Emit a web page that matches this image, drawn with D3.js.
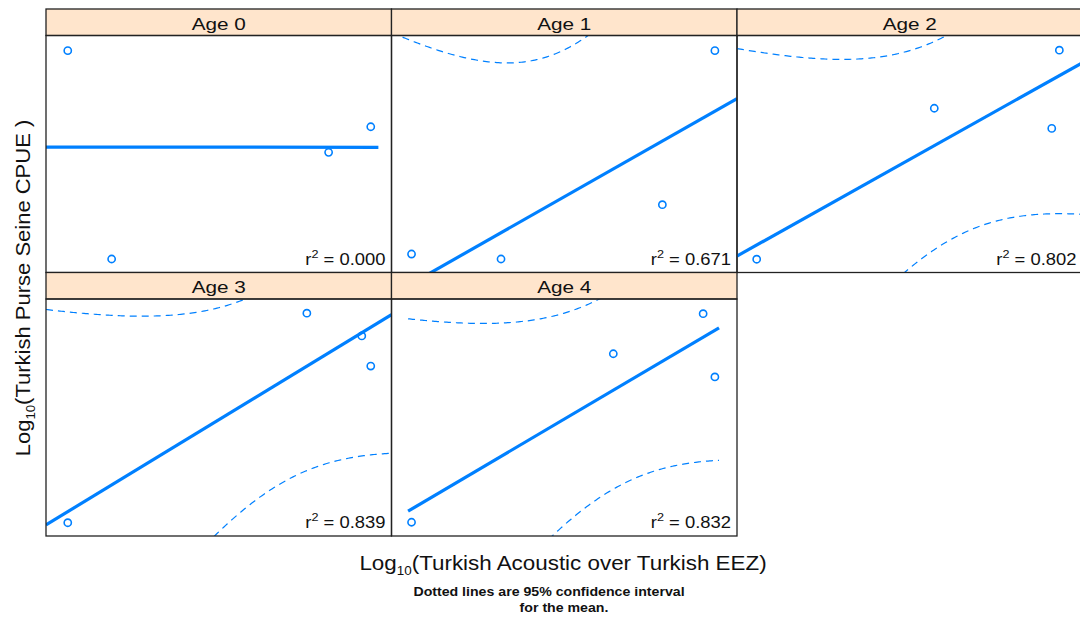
<!DOCTYPE html>
<html>
<head>
<meta charset="utf-8">
<script src="https://cdn.jsdelivr.net/npm/d3@7"></script>
<style>
  html, body { margin: 0; padding: 0; background: #fff; }
  svg { display: block; font-family: "Liberation Sans", Arial, sans-serif; }
</style>
</head>
<body>
<svg id="chart" width="1080" height="620"></svg>
<script>
// ---- data (panel-relative units; no axes are shown in the original) ----
const panels = ["Age 0", "Age 1", "Age 2", "Age 3", "Age 4"];
const xAge0 = [0.063, 0.190, 0.818, 0.940];
const yAge0 = [0.936, 0.057, 0.507, 0.615];
const xAge1 = [0.058, 0.317, 0.784, 0.936];
const yAge1 = [0.078, 0.057, 0.286, 0.936];
const xAge2 = [0.057, 0.571, 0.911, 0.933];
const yAge2 = [0.056, 0.693, 0.608, 0.938];
const xAge3 = [0.063, 0.755, 0.914, 0.940];
const yAge3 = [0.056, 0.940, 0.844, 0.717];
const xAge4 = [0.058, 0.642, 0.902, 0.936];
const yAge4 = [0.058, 0.769, 0.938, 0.671];
const xSeries = [xAge0, xAge1, xAge2, xAge3, xAge4];
const ySeries = [yAge0, yAge1, yAge2, yAge3, yAge4];
const r2Labels = ["0.000", "0.671", "0.802", "0.839", "0.832"];
const fitRanges = [[0, 0.962], [0, 1], [0, 1], [0, 1], [0.048, 0.948]];
const xDomain = [0, 1];
const yDomain = [0, 1];
const tCrit = 4.302653; // t(0.975, df = 2)

// ---- layout ----
const svg = d3.select("#chart");
const leftM = 46, topM = 9, W = 345.5, H = 237, stripH = 26.5;
const blue = "#0080ff";

function fitStats(xs, ys) {
  const n = xs.length;
  const mx = d3.mean(xs), my = d3.mean(ys);
  let sxx = 0, sxy = 0;
  for (let i = 0; i < n; i++) { sxx += (xs[i]-mx)**2; sxy += (xs[i]-mx)*(ys[i]-my); }
  const b = sxy / sxx, a = my - b * mx;
  let sse = 0;
  for (let i = 0; i < n; i++) sse += (ys[i] - (a + b*xs[i]))**2;
  const s = Math.sqrt(sse / (n - 2));
  return {n, mx, sxx, a, b, s};
}

const defs = svg.append("defs");

panels.forEach((name, i) => {
  const col = i % 3, row = Math.floor(i / 3);
  const x0 = leftM + col * W;
  const y0 = topM + row * (stripH + H);
  const py = y0 + stripH;
  const x = d3.scaleLinear().domain(xDomain).range([x0, x0 + W]);
  const y = d3.scaleLinear().domain(yDomain).range([py + H, py]);

  defs.append("clipPath").attr("id", "clip" + i)
    .append("rect").attr("x", x0).attr("y", py).attr("width", W).attr("height", H);

  const g = svg.append("g");
  const pg = g.append("g").attr("clip-path", `url(#clip${i})`);

  const xs = xSeries[i], ys = ySeries[i];
  const st = fitStats(xs, ys);
  const [fx0, fx1] = fitRanges[i];
  const grid = d3.range(0, 201).map(k => fx0 + (fx1 - fx0) * k / 200);
  const hw = xv => tCrit * st.s * Math.sqrt(1 / st.n + (xv - st.mx) ** 2 / st.sxx);
  const lineGen = d3.line().x(d => x(d[0])).y(d => y(d[1]));

  // confidence bands
  [-1, 1].forEach(sign => {
    pg.append("path")
      .attr("d", lineGen(grid.map(xv => [xv, st.a + st.b * xv + sign * hw(xv)])))
      .attr("fill", "none").attr("stroke", blue).attr("stroke-width", 1.2)
      .attr("stroke-dasharray", "7,5");
  });

  // points
  pg.selectAll("circle").data(xs.map((v, k) => [v, ys[k]])).enter()
    .append("circle")
    .attr("cx", d => x(d[0])).attr("cy", d => y(d[1])).attr("r", 3.6)
    .attr("fill", "none").attr("stroke", blue).attr("stroke-width", 1.6);

  // fitted line
  pg.append("path")
    .attr("d", lineGen([[fx0, st.a + st.b * fx0], [fx1, st.a + st.b * fx1]]))
    .attr("fill", "none").attr("stroke", blue).attr("stroke-width", 3.2);

  // r^2 label
  const t = g.append("text")
    .attr("transform", `translate(${x0 + W - 6},${py + H - 8}) scale(1.15,1)`)
    .attr("text-anchor", "end").attr("font-size", 16).attr("fill", "#111");
  t.append("tspan").text("r");
  t.append("tspan").attr("font-size", 11).attr("dy", -7).text("2");
  t.append("tspan").attr("dy", 7).text(" = " + r2Labels[i]);

  // strip
  g.append("rect").attr("x", x0).attr("y", y0).attr("width", W).attr("height", stripH)
    .attr("fill", "#ffe5cc").attr("stroke", "#222").attr("stroke-width", 1.3);
  g.append("text")
    .attr("transform", `translate(${x0 + W / 2},${y0 + stripH - 6}) scale(1.22,1)`)
    .attr("text-anchor", "middle").attr("font-size", 17).attr("fill", "#111").text(name);

  // panel border
  g.append("rect").attr("x", x0).attr("y", py).attr("width", W).attr("height", H)
    .attr("fill", "none").attr("stroke", "#222").attr("stroke-width", 1.3);
});

// y-axis label
const yl = svg.append("text")
  .attr("transform", "translate(30,288) rotate(-90) scale(1.1,1)")
  .attr("text-anchor", "middle").attr("font-size", 20).attr("fill", "#111");
yl.append("tspan").text("Log");
yl.append("tspan").attr("font-size", 12).attr("dy", 5).text("10");
yl.append("tspan").attr("dy", -5).text("(Turkish Purse Seine CPUE )");

// x-axis label
const xl = svg.append("text")
  .attr("transform", "translate(563,570) scale(1.12,1)")
  .attr("text-anchor", "middle").attr("font-size", 20).attr("fill", "#111");
xl.append("tspan").text("Log");
xl.append("tspan").attr("font-size", 12).attr("dy", 5).text("10");
xl.append("tspan").attr("dy", -5).text("(Turkish Acoustic over Turkish EEZ)");

// footnote
svg.append("text").attr("transform", "translate(549,596) scale(1.18,1)")
  .attr("text-anchor", "middle").attr("font-size", 12).attr("font-weight", "bold")
  .attr("fill", "#111").text("Dotted lines are 95% confidence interval");
svg.append("text").attr("transform", "translate(564,612) scale(1.18,1)")
  .attr("text-anchor", "middle").attr("font-size", 12).attr("font-weight", "bold")
  .attr("fill", "#111").text("for the mean.");
</script>
</body>
</html>
